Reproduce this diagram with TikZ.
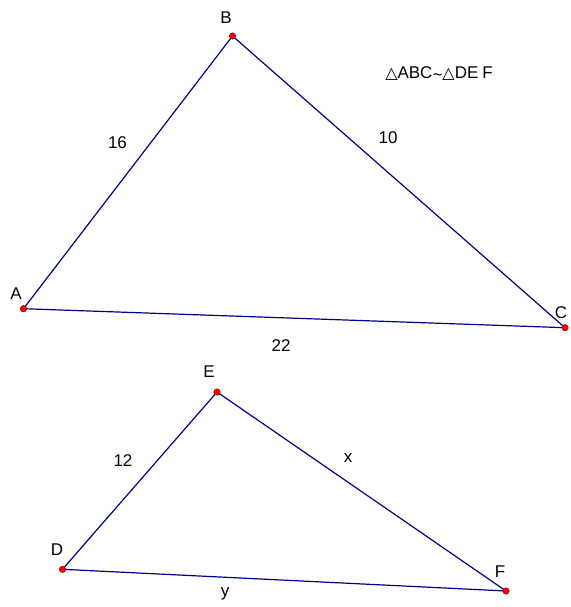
\documentclass[tikz,border=0pt]{standalone}
\usepackage{fontspec}
\setmainfont{Liberation Sans}
\newfontfamily\symfont{DejaVu Sans}
\newcommand{\trisym}{{\symfont\fontsize{16}{18}\selectfont △}}
\begin{document}
\begin{tikzpicture}[x=1pt,y=-1pt,
  edge/.style={draw={rgb,255:red,0;green,0;blue,140}, line width=1.2pt},
  pt/.style={circle, fill=red, draw={rgb,255:red,120;green,0;blue,0}, line width=0.4pt, inner sep=0pt, minimum size=6.5pt},
  lbl/.style={font=\fontsize{17}{19}\selectfont, inner sep=0pt}]
\useasboundingbox (0,0) rectangle (570,607);
\coordinate (A) at (23.5,308.7);
\coordinate (B) at (232.5,36);
\coordinate (C) at (565,327.7);
\coordinate (D) at (62.5,569.3);
\coordinate (E) at (217,392);
\coordinate (F) at (506,591);
\draw[edge] (A) -- (B) -- (C) -- (A);
\draw[edge] (D) -- (E) -- (F) -- (D);
\foreach \p in {A,B,C,D,E,F} \node[pt] (dot\p) at (\p) {};
\node[lbl] (lA) at (16,294) {A};
\node[lbl] (lB) at (226,18) {B};
\node[lbl] (lC) at (561,313) {C};
\node[lbl] (lD) at (57,550) {D};
\node[lbl] (lE) at (209,372) {E};
\node[lbl] (lF) at (500,572) {F};
\node[lbl] (l16) at (117.5,143) {16};
\node[lbl] (l10) at (388,138) {10};
\node[lbl] (l22) at (281,346) {22};
\node[lbl] (l12) at (123,461) {12};
\node[lbl] (lx) at (348,458) {x};
\node[lbl] (ly) at (225,594) {y};
\node[lbl] (title) at (439,74) {\trisym ABC\raisebox{-2pt}{\textasciitilde}\trisym DE\hspace{4pt}F};
\end{tikzpicture}
\end{document}
